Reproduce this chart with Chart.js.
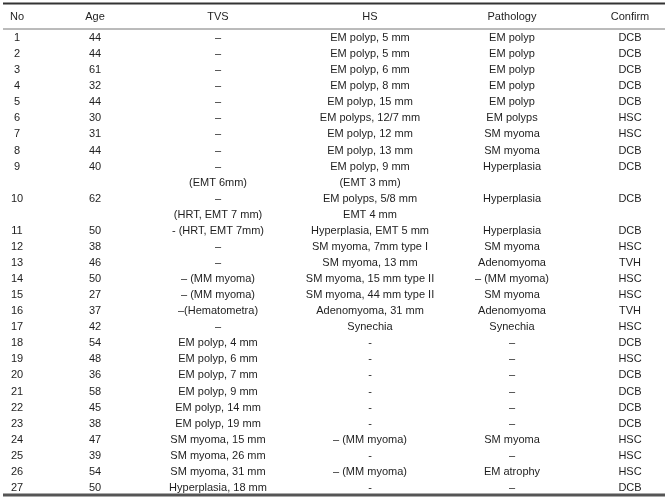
<!DOCTYPE html>
<html>
<head>
<meta charset="utf-8">
<script src="https://cdn.jsdelivr.net/npm/chart.js@4/dist/chart.umd.min.js"></script>
<style>
  html, body { margin: 0; padding: 0; background: #fff; }
  #wrap { width: 668px; height: 498px; position: relative; }
</style>
</head>
<body>
<div id="wrap"><canvas id="tableChart"></canvas></div>
<script>
// Table data
const headers = ["No", "Age", "TVS", "HS", "Pathology", "Confirm"];
const caseNo = [1, 2, 3, 4, 5, 6, 7, 8, 9, 10, 11, 12, 13, 14, 15, 16, 17, 18, 19, 20, 21, 22, 23, 24, 25, 26, 27];
const age = [44, 44, 61, 32, 44, 30, 31, 44, 40, 62, 50, 38, 46, 50, 27, 37, 42, 54, 48, 36, 58, 45, 38, 47, 39, 54, 50];
const tvs = ["–", "–", "–", "–", "–", "–", "–", "–", "–", "–", "- (HRT, EMT 7mm)", "–", "–",
  "– (MM myoma)", "– (MM myoma)", "–(Hematometra)", "–",
  "EM polyp, 4 mm", "EM polyp, 6 mm", "EM polyp, 7 mm", "EM polyp, 9 mm", "EM polyp, 14 mm",
  "EM polyp, 19 mm", "SM myoma, 15 mm", "SM myoma, 26 mm", "SM myoma, 31 mm", "Hyperplasia, 18 mm"];
const hs = ["EM polyp, 5 mm", "EM polyp, 5 mm", "EM polyp, 6 mm", "EM polyp, 8 mm", "EM polyp, 15 mm",
  "EM polyps, 12/7 mm", "EM polyp, 12 mm", "EM polyp, 13 mm", "EM polyp, 9 mm", "EM polyps, 5/8 mm",
  "Hyperplasia, EMT 5 mm", "SM myoma, 7mm type I", "SM myoma, 13 mm", "SM myoma, 15 mm type II",
  "SM myoma, 44 mm type II", "Adenomyoma, 31 mm", "Synechia",
  "-", "-", "-", "-", "-", "-", "– (MM myoma)", "-", "– (MM myoma)", "-"];
const pathology = ["EM polyp", "EM polyp", "EM polyp", "EM polyp", "EM polyp", "EM polyps", "SM myoma",
  "SM myoma", "Hyperplasia", "Hyperplasia", "Hyperplasia", "SM myoma", "Adenomyoma", "– (MM myoma)",
  "SM myoma", "Adenomyoma", "Synechia", "–", "–", "–", "–", "–", "–", "SM myoma", "–", "EM atrophy", "–"];
const confirm = ["DCB", "DCB", "DCB", "DCB", "DCB", "HSC", "HSC", "DCB", "DCB", "DCB", "DCB", "HSC", "TVH",
  "HSC", "HSC", "TVH", "HSC", "DCB", "HSC", "DCB", "DCB", "DCB", "DCB", "HSC", "HSC", "HSC", "DCB"];
// extra lines printed under a case (case number -> text)
const tvsNotes = { 9: "(EMT 6mm)", 10: "(HRT, EMT 7 mm)" };
const hsNotes = { 9: "(EMT 3 mm)", 10: "EMT 4 mm" };

// Layout (x in px units, y in text-line units)
const colX = [17, 95, 218, 370, 512, 630];
const HEADER_Y = -1.31;
const TOP_RULE = -2.15, MID_RULE = -0.56, BOTTOM_RULE = 28.44;
const FONT = "11px 'Liberation Sans', Arial, sans-serif";

// line index of each case, counting the note lines above it
function lineOf(n) {
  let extra = 0;
  Object.keys(tvsNotes).forEach(k => { if (n > +k) extra++; });
  return n - 1 + extra;
}

const columns = [caseNo, age, tvs, hs, pathology, confirm];
const cellData = [];
columns.forEach((col, c) => {
  col.forEach((v, i) => cellData.push({ x: colX[c], y: lineOf(caseNo[i]), text: String(v) }));
});
Object.entries(tvsNotes).forEach(([n, t]) => cellData.push({ x: colX[2], y: lineOf(+n) + 1, text: t }));
Object.entries(hsNotes).forEach(([n, t]) => cellData.push({ x: colX[3], y: lineOf(+n) + 1, text: t }));
const headerData = headers.map((h, c) => ({ x: colX[c], y: HEADER_Y, text: h }));

function rule(y, width, color) {
  return {
    data: [{ x: 3, y: y }, { x: 665, y: y }],
    showLine: true, pointRadius: 0, borderColor: color, borderWidth: width, clip: false
  };
}

const textPlugin = {
  id: "cellText",
  afterDatasetsDraw(chart) {
    const c = chart.ctx;
    c.save();
    c.font = FONT;
    c.fillStyle = "#1e1e1e";
    c.textAlign = "center";
    c.textBaseline = "middle";
    chart.data.datasets.forEach((ds, di) => {
      if (!ds.isText) return;
      chart.getDatasetMeta(di).data.forEach((pt, i) => {
        c.fillText(ds.data[i].text, pt.x, pt.y);
      });
    });
    c.restore();
  }
};

new Chart(document.getElementById("tableChart"), {
  type: "scatter",
  data: {
    datasets: [
      { isText: true, data: headerData, pointRadius: 0, clip: false },
      { isText: true, data: cellData, pointRadius: 0, clip: false },
      rule(TOP_RULE, 2, "#333"),
      rule(MID_RULE, 1, "#777"),
      rule(BOTTOM_RULE, 3, "#555"),
    ],
  },
  options: {
    responsive: true,
    maintainAspectRatio: false,
    animation: false,
    layout: { padding: 0 },
    plugins: { legend: { display: false }, tooltip: { enabled: false } },
    scales: {
      x: { type: "linear", min: 0, max: 668, display: false },
      y: { type: "linear", min: -2.365, max: 28.625, reverse: true, display: false },
    },
  },
  plugins: [textPlugin],
});
</script>
</body>
</html>
